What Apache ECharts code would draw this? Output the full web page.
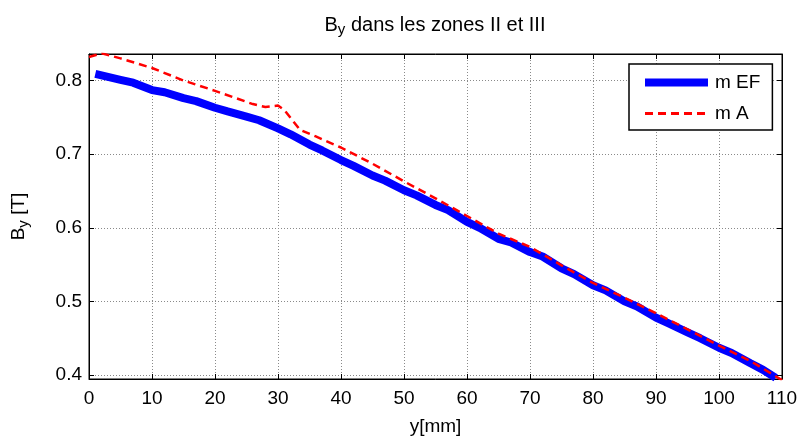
<!DOCTYPE html>
<html>
<head>
<meta charset="utf-8">
<script src="https://cdn.jsdelivr.net/npm/echarts@6/dist/echarts.min.js"></script>
<style>html,body{margin:0;padding:0;background:#fff}#c{width:802px;height:441px}</style>
</head>
<body>
<div id="c"></div>
<script>
const efX = [1,3,5,7,10,12,15,17,20,22,25,27,30,32,35,37,40,42,45,47,50,52,55,57,60,62,65,67,70,72,75,77,80,82,85,87,90,92,95,97,100,102,105,107,109];
const efY = [0.809,0.805,0.801,0.797,0.787,0.784,0.776,0.772,0.763,0.758,0.751,0.746,0.735,0.727,0.713,0.705,0.692,0.684,0.671,0.664,0.651,0.644,0.631,0.624,0.608,0.600,0.585,0.580,0.567,0.561,0.545,0.537,0.522,0.515,0.500,0.493,0.478,0.470,0.458,0.450,0.437,0.430,0.416,0.407,0.396];
const aX = [0,2,5,10,15,20,23,26,28,30,31,33.5,36,40,45,50,55,60,65,70,75,80,85,90,95,100,105,110];
const aY = [0.832,0.837,0.830,0.817,0.800,0.786,0.777,0.768,0.764,0.766,0.760,0.733,0.724,0.709,0.687,0.663,0.640,0.616,0.592,0.574,0.549,0.525,0.505,0.484,0.462,0.440,0.419,0.393];
const yTicks = [0.4,0.5,0.6,0.7,0.8];
const yTickLabels = ['0.4','0.5','0.6','0.7','0.8'];
const seriesNames = ['m EF','m A'];

const FONT = 'Liberation Sans, Arial, sans-serif';
const chart = echarts.init(document.getElementById('c'), null, {renderer:'canvas'});
const zip = (xs, ys) => xs.map((x,i)=>[x, ys[i]]);
const gridLine = {show:true, lineStyle:{color:'#8a8a8a', width:1, type:[1,2]}};
const tickStyle = {show:true, inside:true, length:5, lineStyle:{color:'#000', width:1}};
const Y_MIN = 0.3946, Y_MAX = 0.836;

chart.setOption({
  animation:false,
  backgroundColor:'#fff',
  title:{
    text:'{a|B}{s|y}{a| dans les zones II et III}',
    left:430, textAlign:'center', top:10,
    textStyle:{
      fontFamily:FONT, color:'#000', fontWeight:'normal',
      rich:{
        a:{fontFamily:FONT, fontSize:20, fontWeight:'normal', color:'#000', lineHeight:22, verticalAlign:'top'},
        s:{fontFamily:FONT, fontSize:15, fontWeight:'normal', color:'#000', lineHeight:22, verticalAlign:'bottom'}
      }
    }
  },
  grid:{left:89, right:20, top:54, bottom:57, show:true, borderColor:'#000', borderWidth:1, backgroundColor:'#fff'},
  legend:{
    orient:'vertical', left:629, top:64,
    data:[
      {name:seriesNames[0], lineStyle:{color:'#0000ff', width:8, type:'solid'}},
      {name:seriesNames[1], lineStyle:{color:'#ff0000', width:3, type:[8,5]}}
    ],
    itemStyle:{opacity:0},
    backgroundColor:'#fff', borderColor:'#000', borderWidth:1.5,
    padding:[9,12,7,12], itemGap:12, itemWidth:63, itemHeight:22,
    textStyle:{fontFamily:FONT, fontSize:19, color:'#000', padding:[0,0,0,2]}
  },
  xAxis:[{
    type:'value', min:0, max:110, interval:10, position:'bottom',
    axisLine:{show:true, onZero:false, lineStyle:{color:'#000', width:1}},
    axisTick:tickStyle,
    axisLabel:{fontFamily:FONT, fontSize:19, color:'#000', margin:10},
    splitLine:gridLine,
    name:'y[mm]', nameLocation:'middle', nameGap:38,
    nameTextStyle:{fontFamily:FONT, fontSize:19, color:'#000'}
  },{
    type:'value', min:0, max:110, interval:10, position:'top',
    axisLine:{show:true, onZero:false, lineStyle:{color:'#000'}},
    axisTick:tickStyle, axisLabel:{show:false}, splitLine:{show:false}
  }],
  yAxis:[{
    type:'value', min:Y_MIN, max:Y_MAX, position:'left',
    axisLine:{show:true, onZero:false, lineStyle:{color:'#000', width:1}},
    axisTick:Object.assign({}, tickStyle, {customValues:yTicks}),
    axisLabel:{fontFamily:FONT, fontSize:19, color:'#000', margin:7,
      customValues:yTicks,
      formatter:(v)=>{const i=yTicks.findIndex(t=>Math.abs(t-v)<1e-9); return i>=0?yTickLabels[i]:'';}},
    splitLine:gridLine,
    name:'{a|B}{s|y}{a| [T]}', nameLocation:'middle', nameGap:58, nameRotate:90,
    nameTextStyle:{fontFamily:FONT, color:'#000',
      rich:{
        a:{fontFamily:FONT, fontSize:19, color:'#000', lineHeight:22, verticalAlign:'top'},
        s:{fontFamily:FONT, fontSize:15, color:'#000', lineHeight:22, verticalAlign:'bottom'}
      }}
  },{
    type:'value', min:Y_MIN, max:Y_MAX, position:'right',
    axisLine:{show:true, onZero:false, lineStyle:{color:'#000'}},
    axisTick:Object.assign({}, tickStyle, {customValues:yTicks}),
    axisLabel:{show:false}, splitLine:{show:false}
  }],
  series:[
    {name:seriesNames[0], type:'line', data:zip(efX, efY), showSymbol:false, symbol:'none',
     lineStyle:{color:'#0000ff', width:8}, itemStyle:{color:'#0000ff'}, z:2},
    {name:seriesNames[1], type:'line', data:zip(aX, aY), showSymbol:false, symbol:'none',
     lineStyle:{color:'#ff0000', width:2.5, type:[8,5]}, itemStyle:{color:'#ff0000'}, z:3}
  ]
});
</script>
</body>
</html>
